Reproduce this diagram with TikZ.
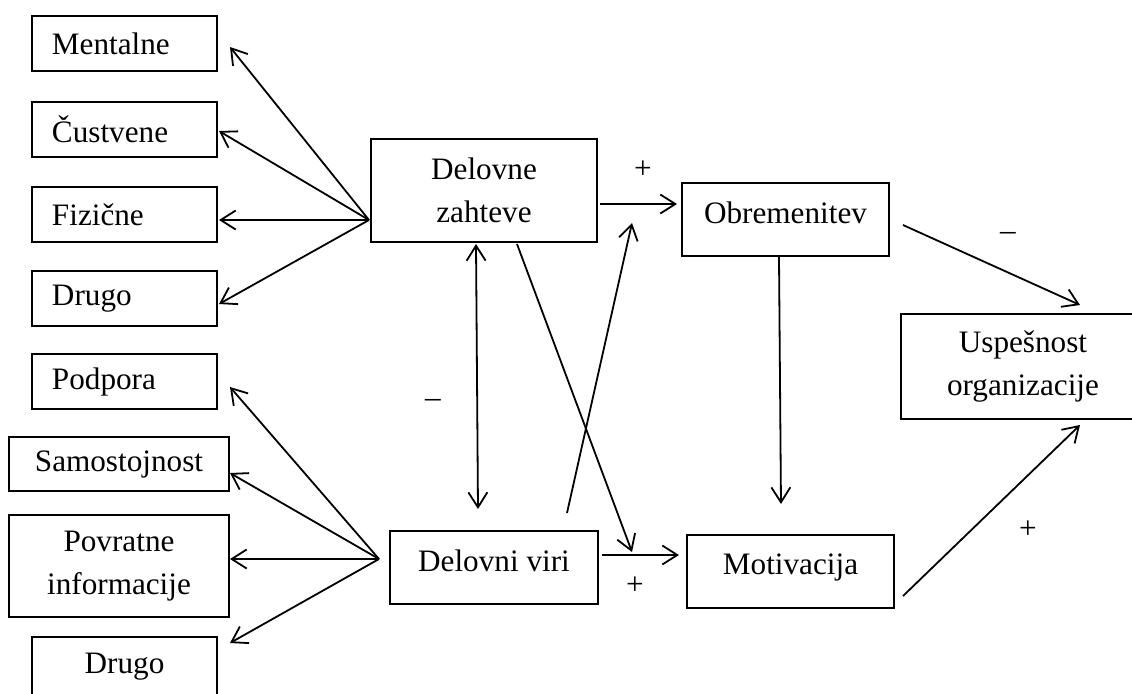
\documentclass[tikz,border=0pt]{standalone}
\usepackage{fontspec}
\setmainfont{Liberation Serif}
\usetikzlibrary{arrows.meta}
\begin{document}
\begin{tikzpicture}[x=0.5pt,y=-0.5pt,
  every node/.style={font=\fontsize{15.6pt}{21.5pt}\selectfont},
  box/.style={draw,line width=1pt,rectangle,inner sep=0pt,align=center},
  lbox/.style={box,align=left,inner xsep=10pt},
  arr/.style={line width=0.9pt,-{Straight Barb[length=7.5pt,width=9.5pt,line width=0.9pt]}},
  darr/.style={line width=0.9pt,{Straight Barb[length=7.5pt,width=9.5pt,line width=0.9pt]}-{Straight Barb[length=7.5pt,width=9.5pt,line width=0.9pt]}},
  sign/.style={inner sep=0pt}]
\useasboundingbox (0,0) rectangle (1132,693);
\clip (0,0) rectangle (1132,693);
% left boxes
\node[lbox,minimum width=92.5pt,minimum height=27.5pt,text width=72.5pt] (ment) at (124.5,43.5) {Mentalne};
\node[lbox,minimum width=92.5pt,minimum height=27.5pt,text width=72.5pt] (cust) at (124.5,129.5) {Čustvene};
\node[lbox,minimum width=92.5pt,minimum height=27.5pt,text width=72.5pt] (fiz) at (124.5,214.5) {Fizične};
\node[lbox,minimum width=92.5pt,minimum height=27.5pt,text width=72.5pt] (drugoa) at (124.5,298.5) {Drugo};
\node[lbox,minimum width=92.5pt,minimum height=27.5pt,text width=72.5pt] (podp) at (124.5,381.5) {Podpora};
\node[box,minimum width=110pt,minimum height=27pt] (samo) at (119,464) {Samostojnost};
\node[box,minimum width=110pt,minimum height=51pt] (povr) at (119,566) {Povratne\\informacije};
\node[box,minimum width=92.5pt,minimum height=30pt] (drugob) at (124.5,667) {Drugo};
% central boxes
\node[box,minimum width=113pt,minimum height=51.5pt] (dz) at (484,190.5) {Delovne\\zahteve};
\node[box,minimum width=104pt,minimum height=36.5pt,text depth=7pt] (dv) at (494,567.5) {Delovni viri};
\node[box,minimum width=103.5pt,minimum height=36.5pt,text depth=7pt] (obrem) at (785.5,219.5) {Obremenitev};
\node[box,minimum width=103.5pt,minimum height=36.5pt,text depth=7pt] (motiv) at (790.5,571.5) {Motivacija};
\node[box,minimum width=122pt,minimum height=52.5pt] (usp) at (1023,366.5) {Uspešnost\\organizacije};
% fan origins
\coordinate (ft) at ([shift={(-1,29.5)}]dz.west);
\coordinate (fb) at ([shift={(-10,-8.5)}]dv.west);
% top fan
\draw[arr] (ft) -- ([shift={(12,3.5)}]ment.east);
\draw[arr] (ft) -- ([shift={(1,1.5)}]cust.east);
\draw[arr] (ft) -- ([shift={(1,5.5)}]fiz.east);
\draw[arr] (ft) -- ([shift={(1,5.5)}]drugoa.east);
% bottom fan
\draw[arr] (fb) -- ([shift={(12,5.5)}]podp.east);
\draw[arr] (fb) -- ([shift={(0,9)}]samo.east);
\draw[arr] (fb) -- ([shift={(0,-7)}]povr.east);
\draw[arr] (fb) -- ([shift={(12,7)}]drugob.north east);
% central connectors
\draw[arr] ([shift={(2,13.5)}]dz.east) -- ([shift={(-4,-15.5)}]obrem.west);
\draw[darr] ([shift={(-8,1)}]dz.south) -- ([shift={(-16,-21)}]dv.north);
\draw[arr] ([shift={(3,-12.5)}]dv.east) -- ([shift={(-7,-16.5)}]motiv.west);
\draw[arr] ([shift={(33,1)}]dz.south) -- ([shift={(-54,-19.5)}]motiv.west);
\draw[arr] ([shift={(73,-17)}]dv.north) -- ([shift={(-49,3.5)}]obrem.west);
\draw[arr] ([shift={(-6.5,0)}]obrem.south) -- ([shift={(-9.5,-30)}]motiv.north);
\draw[arr] ([shift={(13,5.5)}]obrem.east) -- ([shift={(57,-8)}]usp.north);
\draw[arr] ([shift={(8,24.5)}]motiv.east) -- ([shift={(57,5)}]usp.south);
% signs
\node[sign] (s1) at (643,170) {+};
\node[sign] (s2) at (433,403) {–};
\node[sign] (s3) at (635,586) {+};
\node[sign] (s4) at (1008,236) {–};
\node[sign] (s5) at (1028,530) {+};
\end{tikzpicture}
\end{document}
